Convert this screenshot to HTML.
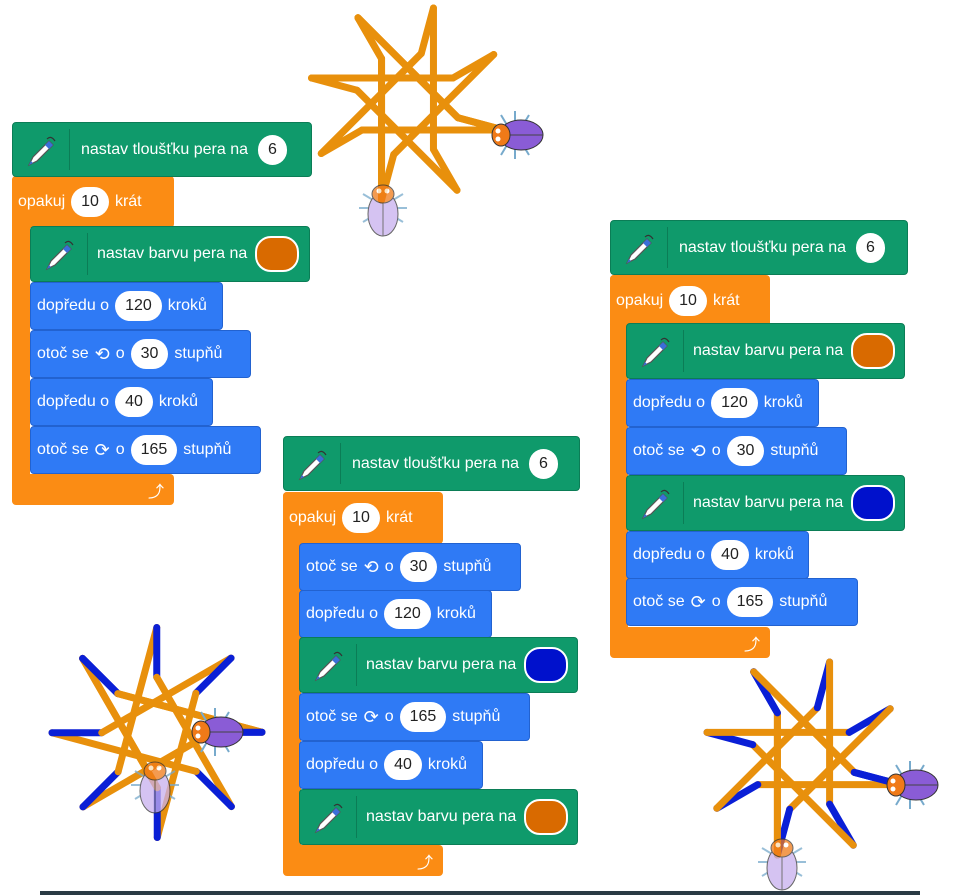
<!DOCTYPE html>
<html><head><meta charset="utf-8"><style>
html,body{margin:0;padding:0;background:#fff;width:961px;height:895px;overflow:hidden;position:relative;font-family:"Liberation Sans",sans-serif;}
.b{position:absolute;border-radius:4px;color:#fff;font-size:16px;font-weight:normal;box-sizing:border-box;display:flex;align-items:center;white-space:nowrap}
.g{background:#0f9a6b;border:1px solid #0b7d56}
.o{background:#fb8c14}
.u{background:#2f7af5;border:1px solid #2262d0}
.in{display:inline-block;background:#fff;color:#222;border-radius:15px;height:30px;line-height:30px;padding:0 10px;margin:0 6px;font-weight:normal;font-size:16px}
.col{display:inline-block;width:40px;height:32px;border-radius:16px;border:2px solid #fff;margin-left:8px}
.sep{position:absolute;top:6px;bottom:6px;width:1px;background:#0b7d56}
.pen{position:absolute;left:12px;top:12px}
svg{position:absolute;left:0;top:0}
</style></head><body>
<div id="root"></div>
<svg id="st" width="961" height="895"></svg>
<div style="position:absolute;left:40px;top:891px;width:880px;height:4px;background:#2a3a44"></div>
<script>
var R=document.getElementById('root'),h='';
var penSvg='<svg class="pen" width="34" height="34" viewBox="0 0 34 34" style="position:absolute"><path d="M4 30 L8 22 L24 6 L28 10 L12 26 Z" fill="#fff" stroke="#555" stroke-width="1.2"/><path d="M20 10 L24 6 L28 10 L24 14Z" fill="#3a6fd8"/><path d="M4 30 L6 26 L8 28Z" fill="#3a6fd8"/><path d="M22 4 Q26 0 30 6" fill="none" stroke="#333" stroke-width="1.2"/></svg>';
function blk(x,y,w,hh,c,inner,pl){h+='<div class="b '+c+'" style="left:'+x+'px;top:'+y+'px;width:'+w+'px;height:'+hh+'px;padding-left:'+(pl||6)+'px">'+inner+'</div>';}
function pen(x,y,w,txt,val,color){var inner=(color?txt+'<span class="col" style="background:'+color+'"></span>':txt+'<span class="in" style="margin-left:10px">'+val+'</span>');
 h+='<div class="b g" style="left:'+x+'px;top:'+y+'px;width:'+w+'px;height:'+(color?56:55)+'px;padding-left:'+(color?66:68)+'px">'+penSvg+'<div class="sep" style="left:56px"></div>'+inner+'</div>';}
function loop(x,y,top,bot){h+='<div class="b o" style="left:'+x+'px;top:'+y+'px;width:18px;height:'+(bot+30-y)+'px;border-radius:4px 0 0 4px"></div>';
 blk(x,y,top,52,'o','opakuj<span class="in">10</span>krát',6);
 h+='<div class="b o" style="left:'+x+'px;top:'+bot+'px;width:'+top+'px;height:31px;justify-content:flex-end;padding-right:10px">&#10548;</div>';}
function fwd(x,y,w,v){blk(x,y,w,48,'u','dopředu o<span class="in">'+v+'</span>kroků');}
function trn(x,y,w,v,l){blk(x,y,w,48,'u','otoč se <span style="font-size:18px;margin:0 6px">'+(l?'&#10226;':'&#10227;')+'</span>o<span class="in">'+v+'</span>stupňů');}
var OR='#d96a00',BL='#0011cc';
loop(12,176,162,474);
pen(12,122,300,'nastav tloušťku pera na','6');
pen(30,226,280,'nastav barvu pera na',null,OR);
fwd(30,282,193,120);trn(30,330,221,30,1);fwd(30,378,183,40);trn(30,426,231,165,0);
loop(283,492,160,845);
pen(283,436,297,'nastav tloušťku pera na','6');
trn(299,543,222,30,1);fwd(299,590,193,120);
pen(299,637,279,'nastav barvu pera na',null,BL);
trn(299,693,231,165,0);fwd(299,741,184,40);
pen(299,789,279,'nastav barvu pera na',null,OR);
loop(610,275,160,627);
pen(610,220,298,'nastav tloušťku pera na','6');
pen(626,323,279,'nastav barvu pera na',null,OR);
fwd(626,379,193,120);trn(626,427,221,30,1);
pen(626,475,279,'nastav barvu pera na',null,BL);
fwd(626,531,183,40);trn(626,578,232,165,0);
R.innerHTML=h;
function star(mode,box){var x=0,y=0,hd=0,seg=[];
 function f(d,c){var nx=x+Math.sin(hd*Math.PI/180)*d,ny=y-Math.cos(hd*Math.PI/180)*d;seg.push([x,y,nx,ny,c]);x=nx;y=ny;}
 for(var i=0;i<10;i++){ if(mode==2){hd-=30;f(120,'o');hd+=165;f(40,'b');} else {f(120,'o');hd-=30;f(40,mode==1?'o':'b');hd+=165;} }
 var a=1e9,b=1e9,c=-1e9,d=-1e9;seg.forEach(function(s){a=Math.min(a,s[0],s[2]);b=Math.min(b,s[1],s[3]);c=Math.max(c,s[0],s[2]);d=Math.max(d,s[1],s[3]);});
 var sc=Math.min((box[2]-box[0])/(c-a),(box[3]-box[1])/(d-b));var ox=(box[0]+box[2])/2-(a+c)/2*sc,oy=(box[1]+box[3])/2-(b+d)/2*sc,o='';
 seg.forEach(function(s){o+='<line x1="'+(s[0]*sc+ox)+'" y1="'+(s[1]*sc+oy)+'" x2="'+(s[2]*sc+ox)+'" y2="'+(s[3]*sc+oy)+'" stroke="'+(s[4]=='o'?'#e8900c':'#0a1fd6')+'" stroke-width="7" stroke-linecap="round"/>';});return o;}
function bug(x,y,rot,light){var op=light?0.75:1;return '<g transform="translate('+x+','+y+') rotate('+rot+')" opacity="'+op+'"><g stroke="#6a4" stroke-width="2" fill="none"><path d="M-8 -10 l-6 -10 M0 -12 l0 -12 M8 -10 l6 -10 M-8 10 l-6 10 M0 12 l0 12 M8 10 l6 10" stroke="#7ac"/></g><ellipse cx="6" cy="0" rx="22" ry="15" fill="'+(light?'#c8b0ee':'#8a5cd6')+'" stroke="#333"/><line x1="-10" y1="0" x2="28" y2="0" stroke="#444"/><ellipse cx="-14" cy="0" rx="9" ry="11" fill="#f07a18" stroke="#333"/><circle cx="-17" cy="-4" r="2.5" fill="#fff"/><circle cx="-17" cy="4" r="2.5" fill="#fff"/></g>';}
document.getElementById('st').innerHTML=star(1,[310,8,505,200])+star(2,[52,627,262,838])+star(3,[707,662,900,855])+
 bug(515,135,0,0)+bug(383,208,90,1)+bug(215,732,0,0)+bug(155,785,90,1)+bug(910,785,0,0)+bug(782,862,90,1);
</script>
</body></html>
